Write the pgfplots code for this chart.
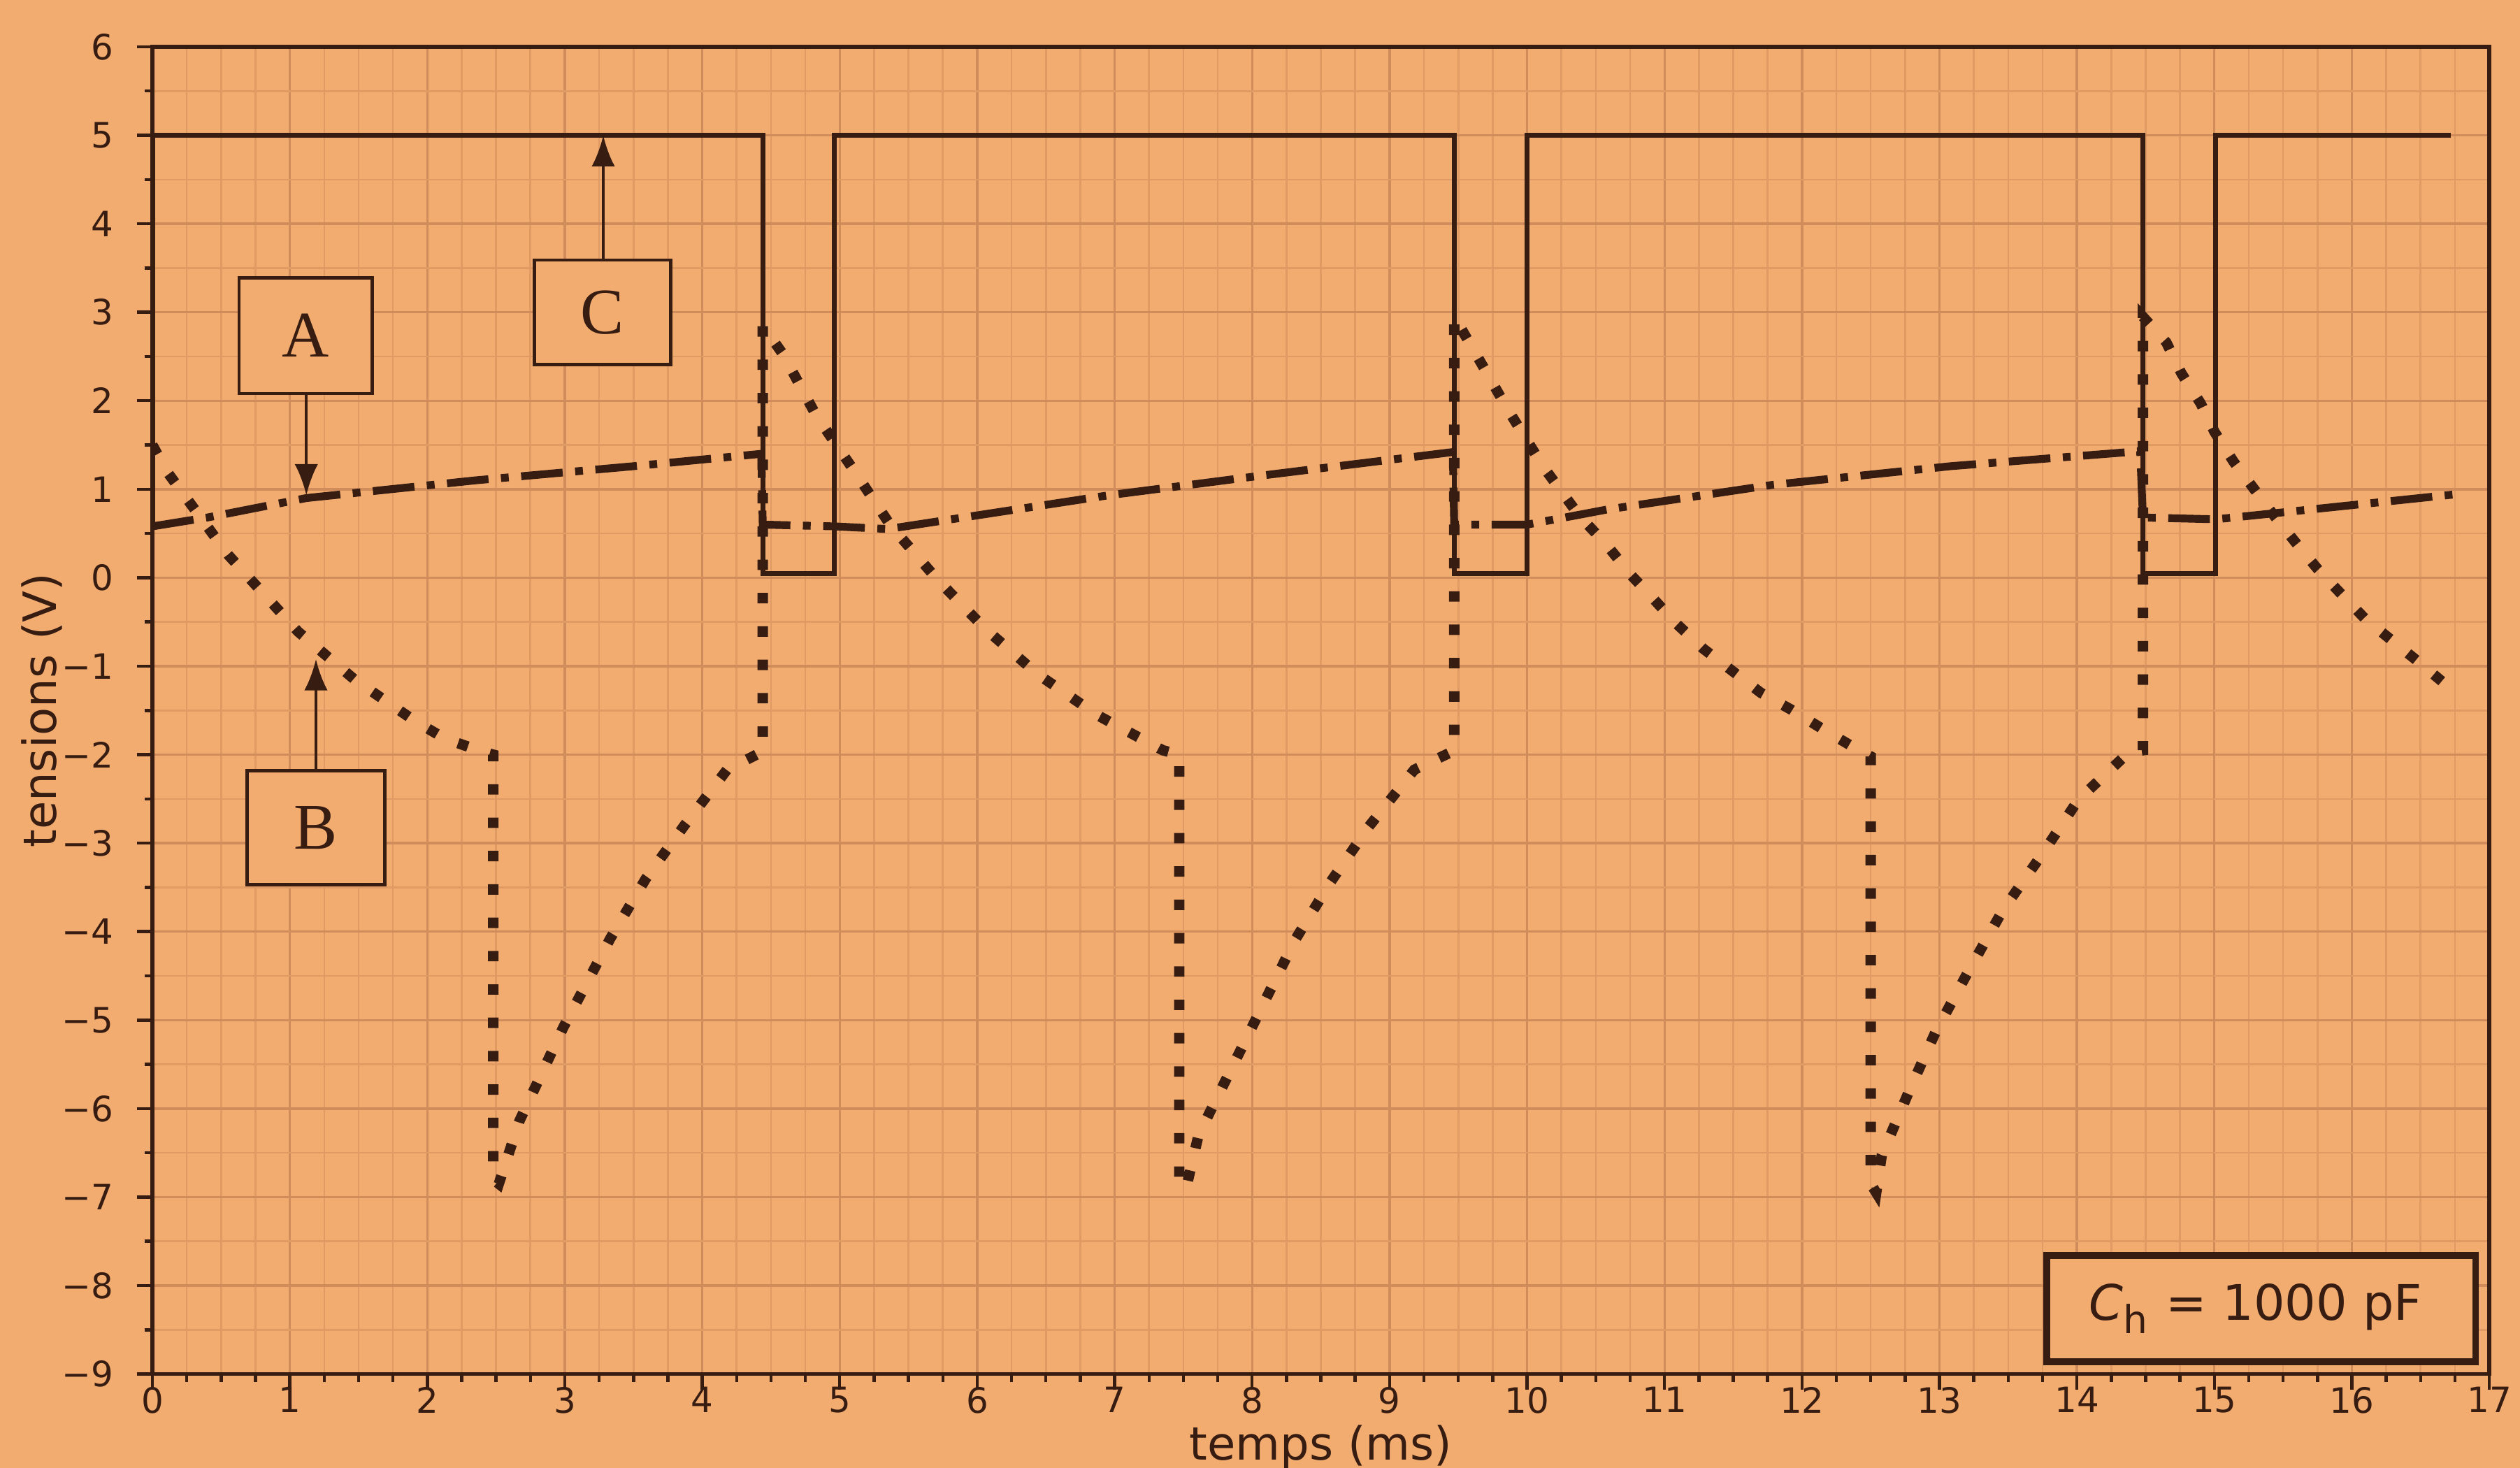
\documentclass[border=0pt]{standalone}
\usepackage{fontspec}
\setmainfont{DejaVu Sans}
\newfontfamily\seriffont{Liberation Serif}
\usepackage{pgfplots}
\pgfplotsset{compat=1.18}
\usetikzlibrary{arrows.meta}
\definecolor{paper}{RGB}{243,172,112}
\definecolor{ink}{RGB}{55,28,18}
\definecolor{gridmaj}{RGB}{208,140,90}
\definecolor{gridmin}{RGB}{224,154,100}

\pgfplotstableread{
x y
0 0.58
0 5
4.44 5
4.44 0.05
4.96 0.05
4.96 5
9.47 5
9.47 0.05
10.0 0.05
10.0 5
14.48 5
14.48 0.05
15.01 0.05
15.01 5
16.72 5
}\curveC

\pgfplotstableread{
x y
0 0.58
0.40 0.68
1.12 0.90
2.35 1.10
3.50 1.26
4.43 1.40
4.44 0.60
4.96 0.58
5.35 0.55
6.95 0.93
8.10 1.16
9.25 1.38
9.46 1.42
9.47 0.60
10.0 0.60
10.58 0.77
11.79 1.05
13.08 1.26
14.46 1.43
14.48 0.68
15.01 0.66
15.20 0.69
16.74 0.94
}\curveA

\pgfplotstableread{
x y
0 1.5
0.11 1.19
0.55 0.26
1.06 -0.61
1.47 -1.15
1.91 -1.62
2.13 -1.82
2.41 -1.97
2.48 -2.0
2.48 -6.8
2.52 -6.85
2.67 -6.14
2.99 -5.08
3.33 -4.08
3.59 -3.40
3.87 -2.80
4.18 -2.17
4.42 -1.98
4.44 -1.98
4.44 2.85
4.59 2.52
4.83 1.83
5.10 1.22
5.37 0.59
5.71 -0.02
6.06 -0.58
6.44 -1.09
6.87 -1.55
7.35 -1.95
7.47 -2.0
7.47 -6.85
7.52 -6.9
7.61 -6.3
7.97 -5.17
8.31 -4.10
8.57 -3.44
8.85 -2.81
9.18 -2.17
9.45 -1.97
9.47 -1.97
9.47 2.95
9.62 2.55
9.86 1.90
10.12 1.25
10.38 0.70
10.58 0.37
10.75 0.04
10.92 -0.24
11.08 -0.51
11.28 -0.80
11.49 -1.05
11.70 -1.30
11.92 -1.49
12.15 -1.71
12.38 -1.92
12.50 -2.02
12.50 -6.85
12.54 -6.95
12.58 -6.53
12.78 -5.80
12.97 -5.14
13.21 -4.45
13.46 -3.76
13.74 -3.14
14.01 -2.51
14.38 -1.97
14.48 -1.95
14.48 2.95
14.65 2.66
14.76 2.31
14.90 1.97
15.00 1.65
15.14 1.31
15.29 1.00
15.44 0.69
15.60 0.38
15.75 0.10
15.92 -0.18
16.10 -0.47
16.30 -0.72
16.50 -0.97
16.70 -1.23
}\curveB

\begin{document}
\begin{tikzpicture}
\fill[paper] (-1.028cm,-0.632cm) rectangle (15.972cm,9.269cm);
\useasboundingbox (-1.028cm,-0.632cm) rectangle (15.972cm,9.269cm);
\begin{axis}[
  at={(0,0)}, anchor=south west,
  scale only axis, width=15.765cm, height=8.953cm,
  xmin=0, xmax=17, ymin=-9, ymax=6,
  xtick={0,1,...,17},
  ytick={-9,-8,...,6},
  yticklabels={−9,−8,−7,−6,−5,−4,−3,−2,−1,0,1,2,3,4,5,6},
  minor x tick num=3, minor y tick num=1,
  grid=both,
  major grid style={gridmaj, line width=0.45pt},
  minor grid style={gridmin, line width=0.35pt},
  axis line style={ink, line width=0.75pt},
  tick style={ink, line width=0.6pt},
  tick align=outside, tick pos=left,
  major tick length=3pt, minor tick length=1.5pt,
  /pgf/number format/assume math mode=true,
  ticklabel style={font=\fontsize{6.7}{8}\selectfont, text=ink},
  xticklabel style={yshift=4pt},
  yticklabel style={xshift=-1pt},
  xlabel={temps (ms)}, ylabel={tensions (V)},
  label style={font=\fontsize{8.8}{10}\selectfont, text=ink},
  xlabel style={at={(axis description cs:0.5,-0.055)}, anchor=center},
  ylabel style={at={(axis description cs:-0.0473,0.5)}, anchor=center},
]
\addplot[ink, line width=0.95pt, line join=miter] table[x=x,y=y] {\curveC};
\addplot[ink, line width=1.5pt, dash pattern=on 8pt off 2.4pt on 1.5pt off 2.4pt] table[x=x,y=y] {\curveA};
\addplot[ink, line width=2pt, line cap=butt, dash pattern=on 2pt off 4.4pt] table[x=x,y=y] {\curveB};

% annotation boxes
\draw[ink, line width=0.6pt, fill=paper] (axis cs:0.63,2.08) rectangle (axis cs:1.60,3.39);
\node[text=ink, font=\seriffont\fontsize{12.5}{14}\selectfont] at (axis cs:1.115,2.735) {A};
\draw[ink, line width=0.6pt, -{Latex[length=6pt,width=4.5pt]}] (axis cs:1.12,2.08) -- (axis cs:1.12,0.93);

\draw[ink, line width=0.6pt, fill=paper] (axis cs:2.78,2.41) rectangle (axis cs:3.77,3.59);
\node[text=ink, font=\seriffont\fontsize{12.5}{14}\selectfont] at (axis cs:3.275,3.0) {C};
\draw[ink, line width=0.6pt, -{Latex[length=6pt,width=4.5pt]}] (axis cs:3.28,3.59) -- (axis cs:3.28,5.0);

\draw[ink, line width=0.6pt, fill=paper] (axis cs:0.69,-3.47) rectangle (axis cs:1.69,-2.18);
\node[text=ink, font=\seriffont\fontsize{12.5}{14}\selectfont] at (axis cs:1.19,-2.825) {B};
\draw[ink, line width=0.6pt, -{Latex[length=6pt,width=4.5pt]}] (axis cs:1.19,-2.18) -- (axis cs:1.19,-0.92);

\draw[ink, line width=1.3pt, fill=paper] (axis cs:13.78,-8.86) rectangle (axis cs:16.9,-7.66);
\node[text=ink, font=\fontsize{9.4}{11}\selectfont] at (axis cs:15.30,-8.26) {{\itshape C}\textsubscript{\fontsize{7.4}{8}\selectfont h} = 1000 pF};
\end{axis}
\end{tikzpicture}
\end{document}
